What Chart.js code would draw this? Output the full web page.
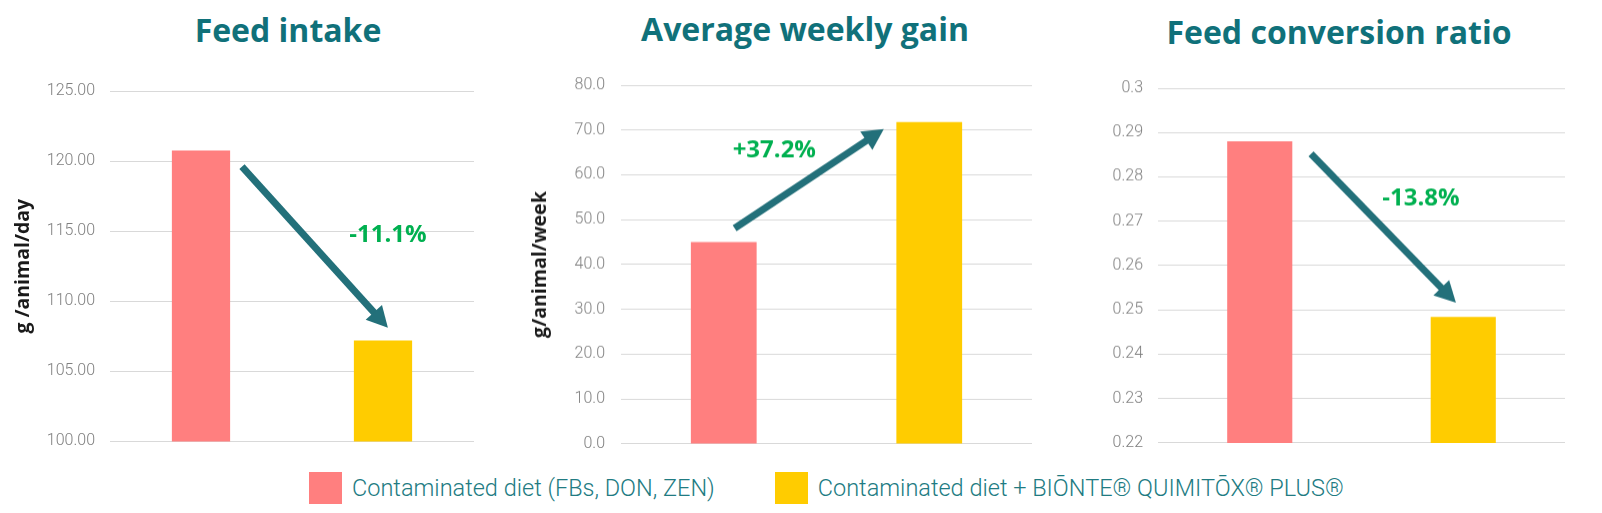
<!DOCTYPE html>
<html>
<head>
<meta charset="utf-8">
<script src="https://cdn.jsdelivr.net/npm/chart.js@4/dist/chart.umd.min.js"></script>
<style>
  html, body { margin: 0; padding: 0; background: #fff; }
  body { width: 1602px; height: 513px; position: relative; overflow: hidden; }
  .box { position: absolute; top: 0; }
  .title {
    position: absolute; transform: translateX(-50%); white-space: nowrap;
    font-family: 'Open Sans', sans-serif; font-weight: 700; font-size: 32px; line-height: 32px;
    color: #10717a;
  }
  #legend {
    position: absolute; left: 309px; top: 471px; height: 33px;
    display: flex; align-items: center;
    font-family: 'Roboto', sans-serif; font-weight: 300; font-size: 23.5px; color: #217b82;
  }
  #legend .sw { width: 33px; height: 32px; margin-right: 10px; }
  #legend .item { display: flex; align-items: center; white-space: nowrap; }
  #legend .item + .item { margin-left: 60px; }
</style>
</head>
<body>
<div class="title" style="left:288px; top:14px;">Feed intake</div>
<div class="title" style="left:805px; top:13px;">Average weekly gain</div>
<div class="title" style="left:1339px; top:16px;">Feed conversion ratio</div>

<!-- bottom of plot = box height - (half tick label + tick padding) -->
<div class="box" style="left:0; width:480px; height:466px;"><canvas id="intakeChart"></canvas></div>
<div class="box" style="left:500px; width:540px; height:468.5px;"><canvas id="gainChart"></canvas></div>
<div class="box" style="left:1040px; width:562px; height:466.5px;"><canvas id="fcrChart"></canvas></div>

<div id="legend"></div>

<script>
// groups (bars / legend)
const groups = ['Contaminated diet (FBs, DON, ZEN)', 'Contaminated diet + BIŌNTE® QUIMITŌX® PLUS®'];
const groupColors = ['#ff7f7f', '#ffcc00'];

// values
const feedIntake = [120.75, 107.2];  // g /animal/day
const weeklyGain = [45.0, 71.8];     // g/animal/week
const fcr = [0.288, 0.2484];         // feed conversion ratio

const changeLabels = ['-11.1%', '+37.2%', '-13.8%'];

// arrow plugin: points are in data units (category index, value)
const arrowNote = {
    id: 'arrowNote',
    afterDatasetsDraw(chart, args, opts) {
        if (!opts || !opts.from) return;
        const xs = chart.scales.x, ys = chart.scales.y;
        const px = p => [xs.getPixelForValue(p[0]), ys.getPixelForValue(p[1])];
        const [x1, y1] = px(opts.from);
        const [x2, y2] = px(opts.to);
        const ang = Math.atan2(y2 - y1, x2 - x1);
        const head = 21, half = 11;
        const ctx = chart.ctx;
        ctx.save();
        ctx.strokeStyle = '#23707a';
        ctx.fillStyle = '#23707a';
        ctx.lineWidth = 7;
        ctx.beginPath();
        ctx.moveTo(x1, y1);
        ctx.lineTo(x2 - Math.cos(ang) * head * 0.8, y2 - Math.sin(ang) * head * 0.8);
        ctx.stroke();
        ctx.beginPath();
        ctx.moveTo(x2, y2);
        ctx.lineTo(x2 - Math.cos(ang) * head - Math.sin(ang) * half, y2 - Math.sin(ang) * head + Math.cos(ang) * half);
        ctx.lineTo(x2 - Math.cos(ang) * head + Math.sin(ang) * half, y2 - Math.sin(ang) * head - Math.cos(ang) * half);
        ctx.closePath();
        ctx.fill();
        // percent label
        const [tx, ty] = px(opts.textAt);
        ctx.font = "bold 24px 'Open Sans'";
        ctx.fillStyle = '#00b050';
        ctx.textAlign = 'center';
        ctx.textBaseline = 'middle';
        ctx.fillText(opts.text, tx, ty);
        ctx.restore();
    }
};

function createChart(id, values, cfg) {
    const ctx = document.getElementById(id).getContext('2d');
    return new Chart(ctx, {
        type: 'bar',
        data: {
            labels: groups,
            datasets: [
                { label: groups[0], data: [values[0], null], backgroundColor: groupColors[0] },
                { label: groups[1], data: [null, values[1]], backgroundColor: groupColors[1] },
            ],
        },
        options: {
            responsive: true,
            maintainAspectRatio: false,
            animation: false,
            grouped: false,
            categoryPercentage: 1,
            barPercentage: 0.32,
            layout: { padding: { top: cfg.top, bottom: 0, left: 0, right: cfg.right } },
            plugins: {
                legend: { display: false },
                tooltip: { enabled: false },
                arrowNote: cfg.arrow,
            },
            scales: {
                x: { display: false },
                y: {
                    min: cfg.min,
                    max: cfg.max,
                    afterFit: s => { s.width = cfg.axisWidth; },
                    border: { display: false },
                    grid: { color: '#d9d9d9', lineWidth: 1, drawTicks: false },
                    ticks: {
                        stepSize: cfg.step,
                        padding: cfg.tickPad,
                        color: '#7f7f7f',
                        font: { family: 'Roboto', weight: '300', size: 16 },
                        callback: cfg.fmt,
                    },
                    title: {
                        display: !!cfg.yTitle,
                        text: cfg.yTitle,
                        color: '#1a1a1a',
                        font: { family: 'Open Sans', weight: 'bold', size: 19.5 },
                        padding: { top: cfg.titlePad || 0, bottom: 0 },
                    },
                },
            },
        },
        plugins: [arrowNote],
    });
}

createChart('intakeChart', feedIntake, {
    min: 100, max: 125, step: 5, fmt: v => v.toFixed(2),
    top: 91, right: 6, axisWidth: 110, tickPad: 15,
    yTitle: 'g /animal/day', titlePad: 11.5,
    arrow: { from: [0.225, 119.6], to: [1.027, 108.1], text: changeLabels[0], textAt: [1.027, 114.7] },
});

createChart('gainChart', weeklyGain, {
    min: 0, max: 80, step: 10, fmt: v => v.toFixed(1),
    top: 85, right: 8, axisWidth: 121, tickPad: 16,
    yTitle: 'g/animal/week', titlePad: 28.5,
    arrow: { from: [0.053, 48.1], to: [0.779, 70.2], text: changeLabels[1], textAt: [0.246, 65.5] },
});

createChart('fcrChart', fcr, {
    min: 0.22, max: 0.3, step: 0.01, fmt: v => String(parseFloat(v.toFixed(2))),
    top: 88, right: 37, axisWidth: 118, tickPad: 15,
    yTitle: '',
    arrow: { from: [0.252, 0.2852], to: [0.964, 0.2516], text: changeLabels[2], textAt: [0.792, 0.2752] },
});

// legend
const legend = document.getElementById('legend');
groups.forEach((g, i) => {
    const item = document.createElement('div');
    item.className = 'item';
    const sw = document.createElement('div');
    sw.className = 'sw';
    sw.style.background = groupColors[i];
    const txt = document.createElement('span');
    txt.textContent = g;
    item.appendChild(sw);
    item.appendChild(txt);
    legend.appendChild(item);
});
</script>
</body>
</html>
